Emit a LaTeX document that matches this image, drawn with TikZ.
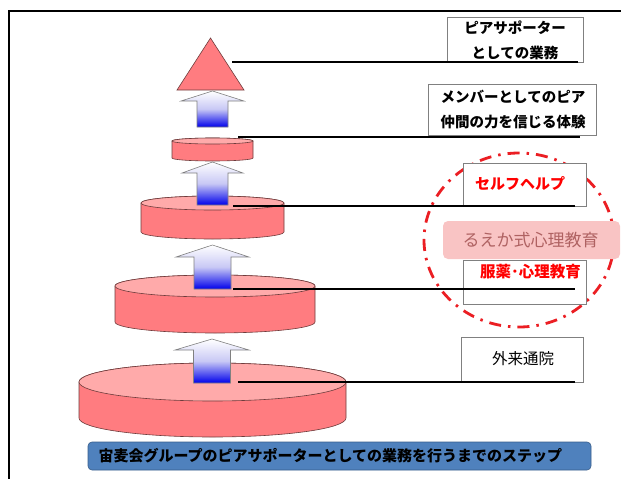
\documentclass[tikz,border=0pt]{standalone}
\usepackage{fontspec}
\newfontfamily\jp{Noto Sans CJK JP}
\usetikzlibrary{calc}
\definecolor{discbody}{RGB}{255,124,128}
\definecolor{disctop}{RGB}{255,170,170}
\definecolor{discedge}{RGB}{110,60,60}
\definecolor{bannerblue}{RGB}{79,129,189}
\definecolor{banneredge}{RGB}{56,93,138}
\definecolor{boxedge}{RGB}{128,128,128}
\definecolor{dashred}{RGB}{235,30,35}
\definecolor{pinkfill}{RGB}{249,196,196}
\definecolor{pinktext}{RGB}{175,98,98}
\definecolor{arrowblue}{RGB}{0,0,235}
\newcommand\mycyl[5]{% cx, ytop, ybot, rx, ry
  \path[fill=discbody,draw=discedge,line width=0.6pt]
    (#1-#4,#2) -- (#1-#4,#3) arc[start angle=180,end angle=360,x radius=#4pt,y radius=#5pt]
    -- (#1+#4,#2) arc[start angle=0,end angle=180,x radius=#4pt,y radius=#5pt] -- cycle;
  \path[fill=disctop,draw=discedge,line width=0.6pt] (#1,#2) ellipse[x radius=#4pt,y radius=#5pt];
}
\newcommand\myarrow[7]{% cx, tip, headbase, headhalf, shafthalf, bottom, name
  \path[draw=boxedge,line width=0.6pt,top color=white,bottom color=arrowblue,middle color={rgb,255:red,200;green,200;blue,245}]
    (#1,#2) -- (#1+#4,#3) -- (#1+#5,#3) -- (#1+#5,#6) -- (#1-#5,#6) -- (#1-#5,#3) -- (#1-#4,#3) -- cycle;
  \coordinate (#7) at (#1,#6);
}
\tikzset{
  lbox/.style={draw=boxedge,line width=0.7pt,fill=white,inner sep=0pt},
  jtext/.style={font=\jp\bfseries\fontsize{14.5}{25}\selectfont,align=center},
  lvl/.style={line width=1.6pt,draw=black},
}
\begin{document}
\begin{tikzpicture}[x=1pt,y=-1pt]
\useasboundingbox (0,0) rectangle (621,479);
% frame
\draw[line width=1.6pt] (9,479) -- (9,11) -- (621,11);
% triangle
\path[fill=discbody,draw=discedge,line width=0.6pt] (210.5,38) -- (244,90) -- (177,90) -- cycle;
% cylinders
\mycyl{212.5}{141}{158}{40.5}{3}
\mycyl{212.5}{203}{232}{71.5}{7}
\mycyl{215}{286}{322}{100}{11}
\mycyl{212.5}{382}{418}{133.5}{19}
% arrows
\myarrow{212.5}{91}{101}{31.5}{15.5}{127}{a1}
\myarrow{212.5}{162}{173}{30.5}{15.5}{205}{a2}
\myarrow{212.5}{245}{257}{36.5}{18.5}{289}{a3}
\myarrow{212}{339}{350}{37}{18.5}{383}{a4}
% dash-dot ellipse
\draw[dashred,line width=2.8pt,dash pattern=on 12pt off 7pt on 2.5pt off 7pt] (519,240) ellipse[x radius=95pt,y radius=87pt];
% boxes
\node[lbox,minimum width=136pt,minimum height=45pt] (b1) at (515,39.5) {};
\node[jtext] (t1) at (515,40) {ピアサポーター\\としての業務};
\node[lbox,minimum width=168pt,minimum height=51pt] (b2) at (512,109.5) {};
\node[jtext] (t2) at (513,110) {メンバーとしてのピア\\仲間の力を信じる体験};
\node[lbox,minimum width=123pt,minimum height=43pt] (b3) at (524.5,184.5) {};
\node[jtext,text=red,font=\jp\bfseries\fontsize{15}{18}\selectfont] (t3) at (520,184) {セルフヘルプ};
\node[lbox,minimum width=123pt,minimum height=44pt] (b4) at (524.5,282) {};
\node[jtext,text=red,font=\jp\bfseries\fontsize{15.5}{18}\selectfont] (t4) at (530.5,272) {服薬･心理教育};
\node[lbox,minimum width=122pt,minimum height=45pt] (b5) at (522,359.5) {};
\node[font=\jp\fontsize{15.5}{18}\selectfont] (t5) at (523,359) {外来通院};
\node[fill=pinkfill,rounded corners=5pt,minimum width=177pt,minimum height=38pt,inner sep=0pt] (pk) at (531.5,240) {};
\node[font=\jp\fontsize{17}{20}\selectfont,text=pinktext] (pkt) at (530.5,240) {るえか式心理教育};
% level lines
\coordinate (e1) at (578,62);
\coordinate (e2) at (580,137);
\coordinate (e3) at (575,206);
\coordinate (e4) at (575,289);
\coordinate (e5) at (575,382);
\coordinate (s1) at (232,62);
\coordinate (s2) at (238,137);
\draw[lvl] (s1) -- (e1);
\draw[lvl] (s2) -- (e2);
\draw[lvl] ($(a2)+(20.5,1)$) -- (e3);
\draw[lvl] ($(a3)+(20.5,0)$) -- (e4);
\draw[lvl] ($(a4)+(26,-1)$) -- (e5);
% banner
\node[fill=bannerblue,draw=banneredge,line width=0.6pt,rounded corners=4pt,minimum width=503pt,minimum height=28pt,inner sep=0pt] (bn) at (339.5,456) {};
\node[anchor=west,font=\jp\bfseries\fontsize{15}{17}\selectfont] (bt) at (95,456) {宙麦会グループのピアサポーターとしての業務を行うまでのステップ};
\end{tikzpicture}
\end{document}
